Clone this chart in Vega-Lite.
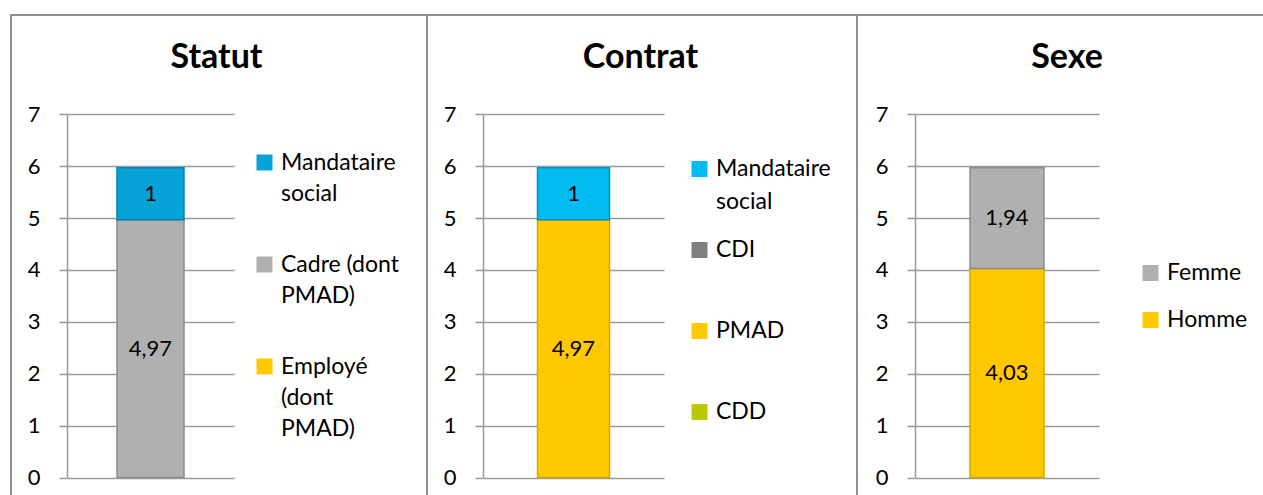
{
  "$schema": "https://vega.github.io/schema/vega-lite/v6.json",
  "padding": {"left": 8, "top": 12, "right": 0, "bottom": 0},
  "background": "white",
  "config": {
    "view": {"stroke": null},
    "font": "Lato",
    "locale": {"number": {"decimal": ",", "thousands": "\u00a0", "grouping": [3], "currency": ["", "\u00a0€"]}},
    "axis": {"labelFont": "Lato", "labelFontSize": 22, "labelColor": "#000000"},
    "legend": {"labelFont": "Lato", "labelFontSize": 23, "labelColor": "#000000", "padding": 0}
  },
  "bounds": "flush",
  "spacing": 0,
  "vconcat": [
    {
      "width": 1255, "height": 2,
      "view": {"fill": "#8f8f8f", "stroke": null},
      "data": {"values": [{"a": 1}]},
      "mark": {"type": "point", "opacity": 0}
    },
    {
      "bounds": "flush",
      "spacing": 0,
      "resolve": {"scale": {"color": "independent", "stroke": "independent", "y": "independent", "x": "independent"}, "legend": {"color": "independent"}},
      "hconcat": [
        {"width": 2, "height": 481, "view": {"fill": "#8f8f8f", "stroke": null}, "data": {"values": [{"a": 1}]}, "mark": {"type": "point", "opacity": 0}},
        {"width": 55, "height": 481, "view": {"fill": null, "stroke": null}, "data": {"values": [{"a": 1}]}, "mark": {"type": "point", "opacity": 0}},
        {
          "width": 167, "height": 481,
          "view": {"stroke": null},
          "title": {"text": "Statut", "frame": "group", "anchor": "middle", "dx": 66, "dy": 31, "offset": -55, "baseline": "alphabetic", "fontSize": 34, "font": "Lato", "fontWeight": "bold", "color": "#000000"},
          "data": {"values": [
            {"cat": "Employé (dont PMAD)", "value": 0, "ord": 1},
            {"cat": "Cadre (dont PMAD)", "value": 4.97, "ord": 2},
            {"cat": "Mandataire social", "value": 1, "ord": 3}
          ]},
          "transform": [{"filter": "datum.value > 0"}, {"calculate": "'Statut'", "as": "panel"}],
          "encoding": {"x": {"field": "panel", "type": "nominal", "axis": null}},
          "layer": [
            {
              "mark": {"type": "bar", "width": 67, "strokeWidth": 1.5},
              "encoding": {
                "y": {"field": "value", "type": "quantitative", "stack": "zero",
                  "scale": {"domain": [0, 7], "range": [461.5, 98.3], "nice": false, "zero": false},
                  "axis": {"values": [0, 1, 2, 3, 4, 5, 6, 7], "format": "d", "title": null, "grid": true, "gridColor": "#9a9a9a", "gridWidth": 1.5, "domainColor": "#9a9a9a", "domainWidth": 1.5, "tickColor": "#9a9a9a", "tickWidth": 1.5, "tickSize": 8, "labelPadding": 19}},
                "color": {"field": "cat", "type": "nominal",
                  "scale": {"domain": ["Mandataire social", "Cadre (dont PMAD)", "Employé (dont PMAD)"], "range": ["#08A3D6", "#B0B0B0", "#FFC800"]},
                  "legend": {"orient": "none", "legendX": 186, "legendY": 135, "title": null, "symbolType": "square", "symbolSize": 256, "symbolStrokeWidth": 0, "rowPadding": 47, "labelOffset": 5, "labelLimit": 300,
                    "labelExpr": "datum.label == 'Mandataire social' ? ['Mandataire', 'social'] : datum.label == 'Cadre (dont PMAD)' ? ['Cadre (dont', 'PMAD)'] : ['Employé', '(dont', 'PMAD)']",
                    "encode": {"labels": {"update": {"lineHeight": {"value": 31}}}}}},
                "stroke": {"field": "cat", "type": "nominal",
                  "scale": {"domain": ["Mandataire social", "Cadre (dont PMAD)", "Employé (dont PMAD)"], "range": ["#0784AE", "#8C8C8C", "#D9A400"]},
                  "legend": null},
                "order": {"field": "ord", "type": "quantitative"}
              }
            },
            {
              "transform": [
                {"stack": "value", "groupby": ["panel"], "sort": [{"field": "ord", "order": "ascending"}], "as": ["v0", "v1"]},
                {"fold": ["v0", "v1"], "as": ["k", "pos"]},
                {"aggregate": [{"op": "mean", "field": "pos", "as": "mid"}], "groupby": ["panel", "cat", "value"]}
              ],
              "mark": {"type": "text", "fontSize": 22, "font": "Lato", "color": "#000000"},
              "encoding": {
                "y": {"field": "mid", "type": "quantitative"},
                "text": {"field": "value", "type": "quantitative", "format": "~g"}
              }
            }
          ]
        },
        {"width": 192, "height": 481, "view": {"fill": null, "stroke": null}, "data": {"values": [{"a": 1}]}, "mark": {"type": "point", "opacity": 0}},
        {"width": 2, "height": 481, "view": {"fill": "#8f8f8f", "stroke": null}, "data": {"values": [{"a": 1}]}, "mark": {"type": "point", "opacity": 0}},
        {"width": 55, "height": 481, "view": {"fill": null, "stroke": null}, "data": {"values": [{"a": 1}]}, "mark": {"type": "point", "opacity": 0}},
        {
          "width": 181, "height": 481,
          "view": {"stroke": null},
          "title": {"text": "Contrat", "frame": "group", "anchor": "middle", "dx": 67, "dy": 31, "offset": -55, "baseline": "alphabetic", "fontSize": 34, "font": "Lato", "fontWeight": "bold", "color": "#000000"},
          "data": {"values": [
            {"cat": "CDD", "value": 0, "ord": 1},
            {"cat": "PMAD", "value": 4.97, "ord": 2},
            {"cat": "CDI", "value": 0, "ord": 3},
            {"cat": "Mandataire social", "value": 1, "ord": 4}
          ]},
          "transform": [{"filter": "datum.value > 0"}, {"calculate": "'Contrat'", "as": "panel"}],
          "encoding": {"x": {"field": "panel", "type": "nominal", "axis": null}},
          "layer": [
            {
              "mark": {"type": "bar", "width": 72, "strokeWidth": 1.5},
              "encoding": {
                "y": {"field": "value", "type": "quantitative", "stack": "zero",
                  "scale": {"domain": [0, 7], "range": [461.5, 98.3], "nice": false, "zero": false},
                  "axis": {"values": [0, 1, 2, 3, 4, 5, 6, 7], "format": "d", "title": null, "grid": true, "gridColor": "#9a9a9a", "gridWidth": 1.5, "domainColor": "#9a9a9a", "domainWidth": 1.5, "tickColor": "#9a9a9a", "tickWidth": 1.5, "tickSize": 8, "labelPadding": 19}},
                "color": {"field": "cat", "type": "nominal",
                  "scale": {"domain": ["Mandataire social", "CDI", "PMAD", "CDD"], "range": ["#00BCF0", "#808080", "#FFC800", "#BCC800"]},
                  "legend": {"orient": "none", "legendX": 205, "legendY": 141.5, "title": null, "symbolType": "square", "symbolSize": 256, "symbolStrokeWidth": 0, "rowPadding": 25, "labelOffset": 5, "labelLimit": 300,
                    "labelExpr": "datum.label == 'Mandataire social' ? ['Mandataire', 'social'] : [datum.label, ' ']",
                    "encode": {"labels": {"update": {"lineHeight": {"value": 32.5}}}}}},
                "stroke": {"field": "cat", "type": "nominal",
                  "scale": {"domain": ["Mandataire social", "CDI", "PMAD", "CDD"], "range": ["#0790BC", "#606060", "#D9A400", "#9AA400"]},
                  "legend": null},
                "order": {"field": "ord", "type": "quantitative"}
              }
            },
            {
              "transform": [
                {"stack": "value", "groupby": ["panel"], "sort": [{"field": "ord", "order": "ascending"}], "as": ["v0", "v1"]},
                {"fold": ["v0", "v1"], "as": ["k", "pos"]},
                {"aggregate": [{"op": "mean", "field": "pos", "as": "mid"}], "groupby": ["panel", "cat", "value"]}
              ],
              "mark": {"type": "text", "fontSize": 22, "font": "Lato", "color": "#000000"},
              "encoding": {
                "y": {"field": "mid", "type": "quantitative"},
                "text": {"field": "value", "type": "quantitative", "format": "~g"}
              }
            }
          ]
        },
        {"width": 192, "height": 481, "view": {"fill": null, "stroke": null}, "data": {"values": [{"a": 1}]}, "mark": {"type": "point", "opacity": 0}},
        {"width": 2, "height": 481, "view": {"fill": "#8f8f8f", "stroke": null}, "data": {"values": [{"a": 1}]}, "mark": {"type": "point", "opacity": 0}},
        {"width": 57, "height": 481, "view": {"fill": null, "stroke": null}, "data": {"values": [{"a": 1}]}, "mark": {"type": "point", "opacity": 0}},
        {
          "width": 184, "height": 481,
          "view": {"stroke": null},
          "title": {"text": "Sexe", "frame": "group", "anchor": "middle", "dx": 60, "dy": 31, "offset": -55, "baseline": "alphabetic", "fontSize": 34, "font": "Lato", "fontWeight": "bold", "color": "#000000"},
          "data": {"values": [
            {"cat": "Homme", "value": 4.03, "ord": 1},
            {"cat": "Femme", "value": 1.94, "ord": 2}
          ]},
          "transform": [{"filter": "datum.value > 0"}, {"calculate": "'Sexe'", "as": "panel"}],
          "encoding": {"x": {"field": "panel", "type": "nominal", "axis": null}},
          "layer": [
            {
              "mark": {"type": "bar", "width": 74, "strokeWidth": 1.5},
              "encoding": {
                "y": {"field": "value", "type": "quantitative", "stack": "zero",
                  "scale": {"domain": [0, 7], "range": [461.5, 98.3], "nice": false, "zero": false},
                  "axis": {"values": [0, 1, 2, 3, 4, 5, 6, 7], "format": "d", "title": null, "grid": true, "gridColor": "#9a9a9a", "gridWidth": 1.5, "domainColor": "#9a9a9a", "domainWidth": 1.5, "tickColor": "#9a9a9a", "tickWidth": 1.5, "tickSize": 8, "labelPadding": 19}},
                "color": {"field": "cat", "type": "nominal",
                  "scale": {"domain": ["Femme", "Homme"], "range": ["#B0B0B0", "#FFC800"]},
                  "legend": {"orient": "none", "legendX": 224, "legendY": 245.5, "title": null, "symbolType": "square", "symbolSize": 256, "symbolStrokeWidth": 0, "rowPadding": 23, "labelOffset": 5, "labelLimit": 300}},
                "stroke": {"field": "cat", "type": "nominal",
                  "scale": {"domain": ["Femme", "Homme"], "range": ["#8C8C8C", "#D9A400"]},
                  "legend": null},
                "order": {"field": "ord", "type": "quantitative"}
              }
            },
            {
              "transform": [
                {"stack": "value", "groupby": ["panel"], "sort": [{"field": "ord", "order": "ascending"}], "as": ["v0", "v1"]},
                {"fold": ["v0", "v1"], "as": ["k", "pos"]},
                {"aggregate": [{"op": "mean", "field": "pos", "as": "mid"}], "groupby": ["panel", "cat", "value"]}
              ],
              "mark": {"type": "text", "fontSize": 22, "font": "Lato", "color": "#000000"},
              "encoding": {
                "y": {"field": "mid", "type": "quantitative"},
                "text": {"field": "value", "type": "quantitative", "format": "~g"}
              }
            }
          ]
        }
      ]
    }
  ]
}
